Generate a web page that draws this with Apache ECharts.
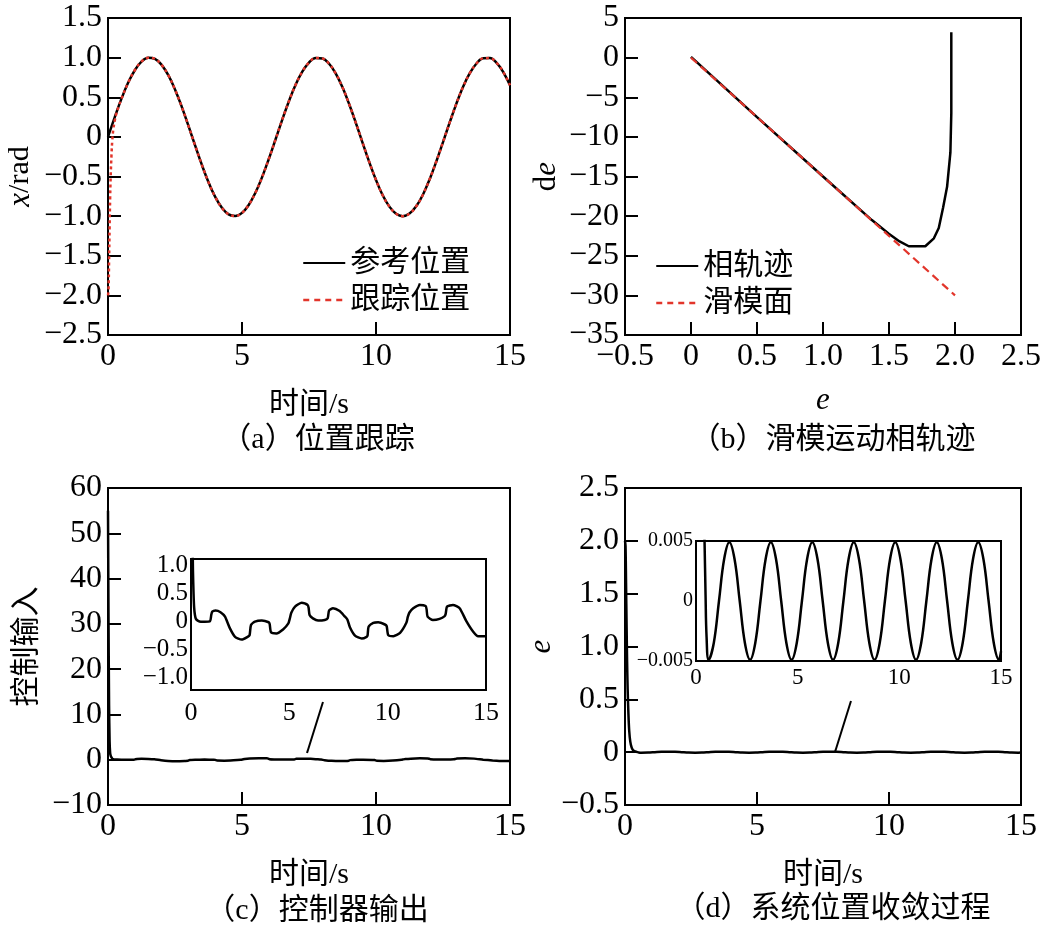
<!DOCTYPE html>
<html><head><meta charset="utf-8">
<script src="https://cdn.jsdelivr.net/npm/echarts@6/dist/echarts.min.js"></script>
<style>html,body{margin:0;padding:0;background:#fff}#c{width:1051px;height:933px}</style>
</head><body><div id="c"></div><script>
// (a) reference position [t, x]
const refPosition = [[0,0],[0.25,0.247],[0.5,0.479],[0.75,0.682],[1.0,0.841],[1.25,0.949],[1.5,0.997],[1.75,0.984],[2.0,0.909],[2.25,0.778],[2.5,0.598],[2.75,0.382],[3.0,0.141],[3.25,-0.108],[3.5,-0.351],[3.75,-0.572],[4.0,-0.757],[4.25,-0.895],[4.5,-0.978],[4.75,-0.999],[5.0,-0.959],[5.25,-0.859],[5.5,-0.706],[5.75,-0.508],[6.0,-0.279],[6.25,-0.033],[6.5,0.215],[6.75,0.450],[7.0,0.657],[7.25,0.823],[7.5,0.938],[7.75,0.995],[8.0,0.989],[8.25,0.923],[8.5,0.798],[8.75,0.625],[9.0,0.412],[9.25,0.174],[9.5,-0.075],[9.75,-0.319],[10.0,-0.544],[10.25,-0.737],[10.5,-0.880],[10.75,-0.970],[11.0,-1.000],[11.25,-0.968],[11.5,-0.876],[11.75,-0.730],[12.0,-0.537],[12.25,-0.311],[12.5,-0.066],[12.75,0.182],[13.0,0.420],[13.25,0.632],[13.5,0.803],[13.75,0.926],[14.0,0.991],[14.25,0.994],[14.5,0.935],[14.75,0.818],[15.0,0.650]];
// (a) tracking position: start transient, then on the reference
const trackTransient = [[0,-2.0],[0.02,-1.93],[0.04,-1.56],[0.06,-1.14],[0.08,-0.77],[0.1,-0.5],[0.13,-0.23],[0.16,-0.04],[0.2,0.1],[0.25,0.2],[0.3,0.28],[0.4,0.385],[0.5,0.479]];
const trackPosition = trackTransient.concat(refPosition.filter(p => p[0] > 0.5));
// (b) phase trajectory [e, de] and sliding surface
const phaseTrajectory = [[1.972,3.2],[1.972,-7],[1.965,-12],[1.94,-16.3],[1.91,-18.9],[1.877,-21.5],[1.84,-22.8],[1.775,-23.8],[1.65,-23.8],[1.58,-23.2],[1.496,-22.2],[1.37,-20.5],[1.0,-15],[0.5,-7.5],[0,0.1]];
const slidingSurface = [[0,0],[2.0,-30]];
// (c) controller output [t, u]
const controlInput = [[0,55],[0.02,30],[0.04,12],[0.06,4],[0.08,1.5],[0.1,0.9],[0.13,0.5],[0.16,0.25],[0.2,0.12],[0.25,0.05],[0.34,0.02],[0.5,0.0],[0.7,0.0],[0.97,0.01],[1.03,0.12],[1.08,0.18],[1.25,0.2],[1.5,0.17],[1.73,0.09],[1.98,-0.12],[2.24,-0.27],[2.58,-0.32],[2.88,-0.27],[2.98,-0.24],[3.05,-0.06],[3.25,0.0],[3.6,0.02],[3.95,-0.01],[4.0,-0.04],[4.07,-0.19],[4.34,-0.21],[4.68,-0.14],[4.95,-0.03],[5.02,0.05],[5.1,0.16],[5.29,0.27],[5.63,0.34],[5.93,0.3],[5.98,0.25],[6.03,0.12],[6.2,0.06],[6.46,0.02],[6.8,0.03],[6.95,0.06],[7.02,0.2],[7.22,0.24],[7.56,0.19],[7.8,0.1],[7.95,0.04],[8.08,-0.1],[8.34,-0.25],[8.68,-0.3],[8.93,-0.27],[8.98,-0.24],[9.03,-0.09],[9.27,-0.02],[9.52,-0.01],[9.86,-0.05],[9.95,-0.08],[10.03,-0.24],[10.29,-0.26],[10.63,-0.2],[10.95,-0.02],[11.02,0.08],[11.1,0.16],[11.3,0.24],[11.64,0.3],[11.93,0.28],[11.98,0.22],[12.03,0.09],[12.3,0.03],[12.64,0.05],[12.9,0.1],[12.95,0.14],[13.02,0.27],[13.32,0.3],[13.66,0.24],[14.0,0.01],[14.35,-0.18],[14.6,-0.26],[15,-0.26]];
// (d) position error [t, e]
const positionError = [[0,2.0],[0.02,1.95],[0.04,1.6],[0.06,1.2],[0.08,0.85],[0.1,0.6],[0.13,0.36],[0.16,0.2],[0.2,0.1],[0.25,0.045],[0.3,0.02],[0.35,0.01],[0.42,0.005],[0.47,0.0005],[0.52,-0.003],[0.62,-0.0049],[0.875,-0.0035],[1.13,0],[1.385,0.0035],[1.64,0.0049],[1.895,0.0035],[2.15,0],[2.405,-0.0035],[2.66,-0.0049],[2.915,-0.0035],[3.17,0],[3.425,0.0035],[3.68,0.0049],[3.935,0.0035],[4.19,0],[4.445,-0.0035],[4.70,-0.0049],[4.955,-0.0035],[5.21,0],[5.465,0.0035],[5.72,0.0049],[5.975,0.0035],[6.23,0],[6.485,-0.0035],[6.74,-0.0049],[6.995,-0.0035],[7.25,0],[7.505,0.0035],[7.76,0.0049],[8.015,0.0035],[8.27,0],[8.525,-0.0035],[8.78,-0.0049],[9.035,-0.0035],[9.29,0],[9.545,0.0035],[9.80,0.0049],[10.055,0.0035],[10.31,0],[10.565,-0.0035],[10.82,-0.0049],[11.075,-0.0035],[11.33,0],[11.585,0.0035],[11.84,0.0049],[12.095,0.0035],[12.35,0],[12.605,-0.0035],[12.86,-0.0049],[13.115,-0.0035],[13.37,0],[13.625,0.0035],[13.88,0.0049],[14.135,0.0035],[14.39,0],[14.645,-0.0035],[14.90,-0.0049],[15.0,-0.0042]];
const insetCTicks = [-1,-0.5,0,0.5,1];
const captions = ['（a）位置跟踪','（b）滑模运动相轨迹','（c）控制器输出','（d）系统位置收敛过程'];

const FONT = "'Liberation Serif','Times New Roman','Noto Sans CJK SC',serif";
const fmt = d => v => (Math.abs(v) < 1e-12 ? '0' : v.toFixed(d)).replace('-', '\u2212');
const RICH = {i:{fontStyle:'italic', fontFamily:FONT, fontSize:31, color:'#000'}, r:{fontFamily:FONT, fontSize:31, color:'#000'}};

function axis(gi, min, max, interval, dec, o) {
  o = o || {};
  const a = {
    type:'value', gridIndex:gi, min:min, max:max, interval:interval,
    axisLine:{show:true, onZero:false, lineStyle:{color:'#000', width:2}},
    axisTick:{show:true, inside:true, length:o.tick || 13, lineStyle:{color:'#000', width:2}},
    axisLabel:{color:'#000', fontFamily:FONT, fontSize:o.fs || 32, margin:o.margin == null ? 6 : o.margin, formatter:fmt(dec)},
    splitLine:{show:false},
    nameTextStyle:{color:'#000', fontFamily:FONT, fontSize:30, rich:RICH}
  };
  if (o.name) { a.name = o.name; a.nameLocation = 'middle'; a.nameGap = o.gap; if (o.rot) a.nameRotate = 90; }
  if (o.custom) { a.axisTick.customValues = o.custom; a.axisLabel.customValues = o.custom; delete a.interval; }
  return a;
}

const chart = echarts.init(document.getElementById('c'), null, {renderer:'canvas'});
const gridBase = {show:true, borderColor:'#000', borderWidth:2, backgroundColor:'#fff', containLabel:false};
const legendText = {fontFamily:FONT, fontSize:30, color:'#000', lineHeight:32};
chart.setOption({
  animation:false,
  backgroundColor:'#fff',
  grid:[
    Object.assign({left:108, top:18, width:402, height:317}, gridBase),
    Object.assign({left:625, top:18, width:396, height:317}, gridBase),
    Object.assign({left:108, top:488, width:402, height:317}, gridBase),
    Object.assign({left:625, top:488, width:396, height:317}, gridBase),
    Object.assign({left:191, top:559, width:295, height:131, z:5}, gridBase),
    Object.assign({left:696, top:541, width:305, height:120, z:5}, gridBase)
  ],
  xAxis:[
    axis(0, 0, 15, 5, 0, {name:'时间/s', gap:55}),
    axis(1, -0.5, 2.5, 0.5, 1, {name:'{i|e}', gap:50}),
    axis(2, 0, 15, 5, 0, {name:'时间/s', gap:55}),
    axis(3, 0, 15, 5, 0, {name:'时间/s', gap:55}),
    axis(4, 0, 15, 5, 0, {fs:26, margin:10, tick:8}),
    axis(5, 0, 15, 5, 0, {fs:23, margin:5, tick:4})
  ],
  yAxis:[
    axis(0, -2.5, 1.5, 0.5, 1, {name:'{i|x}/rad', gap:72, rot:true}),
    axis(1, -35, 5, 5, 0, {name:'{r|d}{i|e}', gap:63, rot:true}),
    axis(2, -10, 60, 10, 0, {name:'控制输入', gap:66, rot:true}),
    axis(3, -0.5, 2.5, 0.5, 1, {name:'{i|e}', gap:53, rot:true}),
    axis(4, -1.22, 1.12, null, 1, {fs:25, margin:3, tick:8, custom:insetCTicks}),
    axis(5, -0.005, 0.005, 0.005, 3, {fs:20, margin:3, tick:7})
  ],
  legend:[
    {data:[{name:'参考位置'},{name:'跟踪位置', lineStyle:{type:[6,5], width:2.5}}], orient:'vertical', left:297, top:242,
     itemWidth:42, itemHeight:14, itemGap:5, selectedMode:false, itemStyle:{opacity:0}, textStyle:legendText},
    {data:[{name:'相轨迹'},{name:'滑模面', lineStyle:{type:[6,5], width:2.5}}], orient:'vertical', left:650, top:245,
     itemWidth:42, itemHeight:14, itemGap:5, selectedMode:false, itemStyle:{opacity:0}, textStyle:legendText}
  ],
  series:[
    {name:'参考位置', type:'line', xAxisIndex:0, yAxisIndex:0, data:refPosition, smooth:0.4, symbol:'none',
     lineStyle:{color:'#000', width:2.5}, itemStyle:{color:'#000'}},
    {name:'跟踪位置', type:'line', xAxisIndex:0, yAxisIndex:0, data:trackPosition, smooth:0.4, symbol:'none',
     lineStyle:{color:'#e2352b', width:2.5, type:[3,3]}, itemStyle:{color:'#e2352b'}},
    {name:'相轨迹', type:'line', xAxisIndex:1, yAxisIndex:1, data:phaseTrajectory, symbol:'none',
     lineStyle:{color:'#000', width:2.5}, itemStyle:{color:'#000'}},
    {name:'滑模面', type:'line', xAxisIndex:1, yAxisIndex:1, data:slidingSurface, symbol:'none',
     lineStyle:{color:'#e2352b', width:2.2, type:[8,5]}, itemStyle:{color:'#e2352b'}},
    {name:'控制输入', type:'line', xAxisIndex:2, yAxisIndex:2, data:controlInput, smooth:0.2, symbol:'none',
     lineStyle:{color:'#000', width:2.5}},
    {name:'控制输入局部', type:'line', xAxisIndex:4, yAxisIndex:4, data:controlInput, smooth:0.2, symbol:'none', z:6,
     lineStyle:{color:'#000', width:2.5}},
    {name:'误差', type:'line', xAxisIndex:3, yAxisIndex:3, data:positionError, smooth:0.3, symbol:'none',
     lineStyle:{color:'#000', width:2.5}},
    {name:'误差局部', type:'line', xAxisIndex:5, yAxisIndex:5, data:positionError, smooth:0.4, symbol:'none', z:6,
     lineStyle:{color:'#000', width:2.5}}
  ],
  graphic:[
    {type:'line', shape:{x1:307, y1:753, x2:323, y2:702}, style:{stroke:'#000', lineWidth:2}},
    {type:'line', shape:{x1:835, y1:752, x2:851, y2:701}, style:{stroke:'#000', lineWidth:2}},
    {type:'text', x:318, y:440, style:{text:captions[0], fontFamily:FONT, fontSize:30, fill:'#000', textAlign:'center', textVerticalAlign:'middle'}},
    {type:'text', x:833, y:440, style:{text:captions[1], fontFamily:FONT, fontSize:30, fill:'#000', textAlign:'center', textVerticalAlign:'middle'}},
    {type:'text', x:317, y:911, style:{text:captions[2], fontFamily:FONT, fontSize:30, fill:'#000', textAlign:'center', textVerticalAlign:'middle'}},
    {type:'text', x:833, y:909, style:{text:captions[3], fontFamily:FONT, fontSize:30, fill:'#000', textAlign:'center', textVerticalAlign:'middle'}}
  ]
});
</script></body></html>
